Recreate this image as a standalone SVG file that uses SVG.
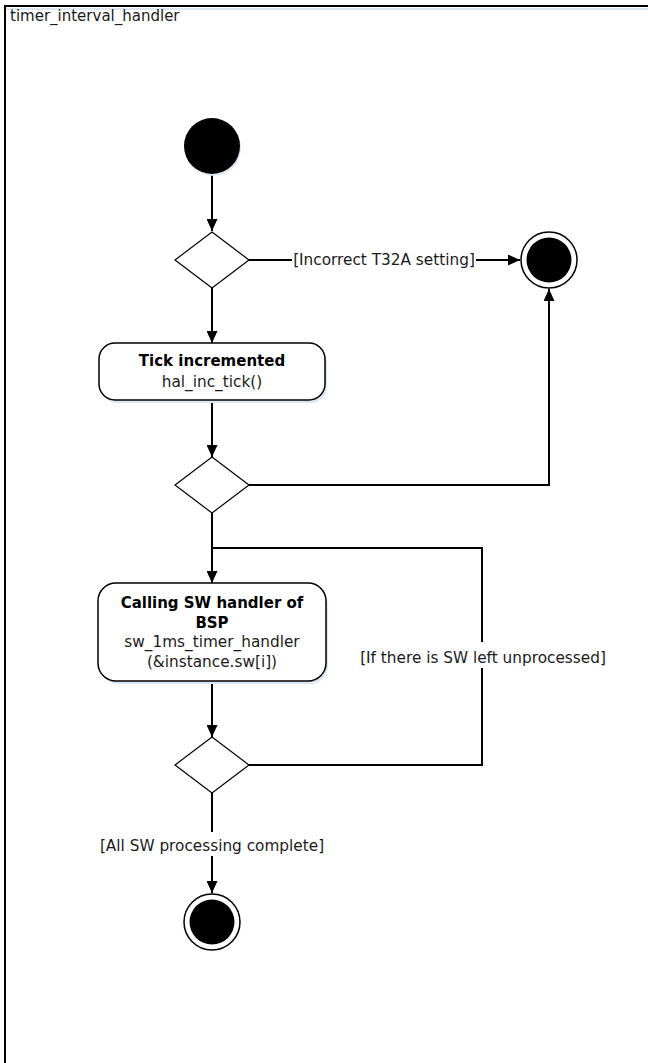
<svg xmlns="http://www.w3.org/2000/svg" width="648" height="1063" viewBox="0 0 648 1063">
<style>
text{font-family:"DejaVu Sans",Verdana,sans-serif;font-size:15.3px;fill:#1a1a1a}
.b{font-weight:bold;fill:#000;font-size:15px}
.c{text-anchor:middle}
.dia{fill:#fff;stroke:#000;stroke-width:1.2}
.act{fill:#fff;stroke:#000;stroke-width:1.5}
.sh{fill:#dde7f3;stroke:none}
.conn{fill:none;stroke:#000;stroke-width:2}
.lbl{fill:#fff;stroke:none}
</style>
<defs>
<marker id="arr" markerUnits="userSpaceOnUse" markerWidth="12" markerHeight="11" refX="12" refY="5.5" orient="auto">
<path d="M0,0 L12,5.5 L0,11 z" fill="#000"/>
</marker>
</defs>
<rect width="648" height="1063" fill="#fff"/>
<g id="frame">
<line x1="6" y1="9" x2="700" y2="9" stroke="#dde7f3" stroke-width="2"/>
<rect x="5" y="6" width="700" height="1100" fill="none" stroke="#000" stroke-width="2"/>
<text x="10" y="21" style="font-size:15px">timer_interval_handler</text>
</g>
<g id="connectors">
<line class="conn" x1="212" y1="175" x2="212" y2="231" marker-end="url(#arr)"/>
<polyline class="conn" points="249,260 292,260"/>
<line class="conn" x1="476" y1="260" x2="520" y2="260" marker-end="url(#arr)"/>
<line class="conn" x1="212" y1="288" x2="212" y2="343" marker-end="url(#arr)"/>
<line class="conn" x1="212" y1="400" x2="212" y2="457" marker-end="url(#arr)"/>
<polyline class="conn" points="249,485 549,485 549,289" marker-end="url(#arr)"/>
<line class="conn" x1="212" y1="513" x2="212" y2="583" marker-end="url(#arr)"/>
<polyline class="conn" points="212,548 482,548 482,765 249,765"/>
<line class="conn" x1="212" y1="681" x2="212" y2="737" marker-end="url(#arr)"/>
<line class="conn" x1="212" y1="793" x2="212" y2="893" marker-end="url(#arr)"/>
<text x="384" y="265" class="c">[Incorrect T32A setting]</text>
<rect class="lbl" x="355" y="642" width="256" height="26"/>
<text x="483" y="663" class="c">[If there is SW left unprocessed]</text>
<rect class="lbl" x="96" y="832" width="232" height="24"/>
<text x="212" y="851" class="c">[All SW processing complete]</text>
</g>
<g id="start">
<circle class="sh" cx="213" cy="148" r="28"/>
<circle cx="212" cy="146" r="28" fill="#000"/>
</g>
<g id="decision1">
<polygon class="dia" points="212,232 249,260 212,288 175,260"/>
</g>
<g id="end1">
<circle cx="549" cy="260" r="28" fill="#fff" stroke="#000" stroke-width="1.5"/>
<circle cx="549" cy="260" r="22.5" fill="#000"/>
</g>
<g id="tick">
<rect class="sh" x="101" y="346" width="226" height="57" rx="16"/>
<rect class="act" x="99" y="343" width="226" height="57" rx="16"/>
<text x="212" y="366" class="c b">Tick incremented</text>
<text x="212" y="387" class="c">hal_inc_tick()</text>
</g>
<g id="decision2">
<polygon class="dia" points="212,457 249,485 212,513 175,485"/>
</g>
<g id="calling">
<rect class="sh" x="100" y="586" width="228" height="98" rx="18"/>
<rect class="act" x="98" y="583" width="228" height="98" rx="18"/>
<text x="212" y="608" class="c b">Calling SW handler of</text>
<text x="212" y="628" class="c b">BSP</text>
<text x="212" y="647" class="c">sw_1ms_timer_handler</text>
<text x="212" y="667" class="c">(&amp;instance.sw[i])</text>
</g>
<g id="decision3">
<polygon class="dia" points="212,737 249,765 212,793 175,765"/>
</g>
<g id="end2">
<circle cx="212" cy="922" r="28" fill="#fff" stroke="#000" stroke-width="1.5"/>
<circle cx="212" cy="922" r="22.5" fill="#000"/>
</g>
</svg>
